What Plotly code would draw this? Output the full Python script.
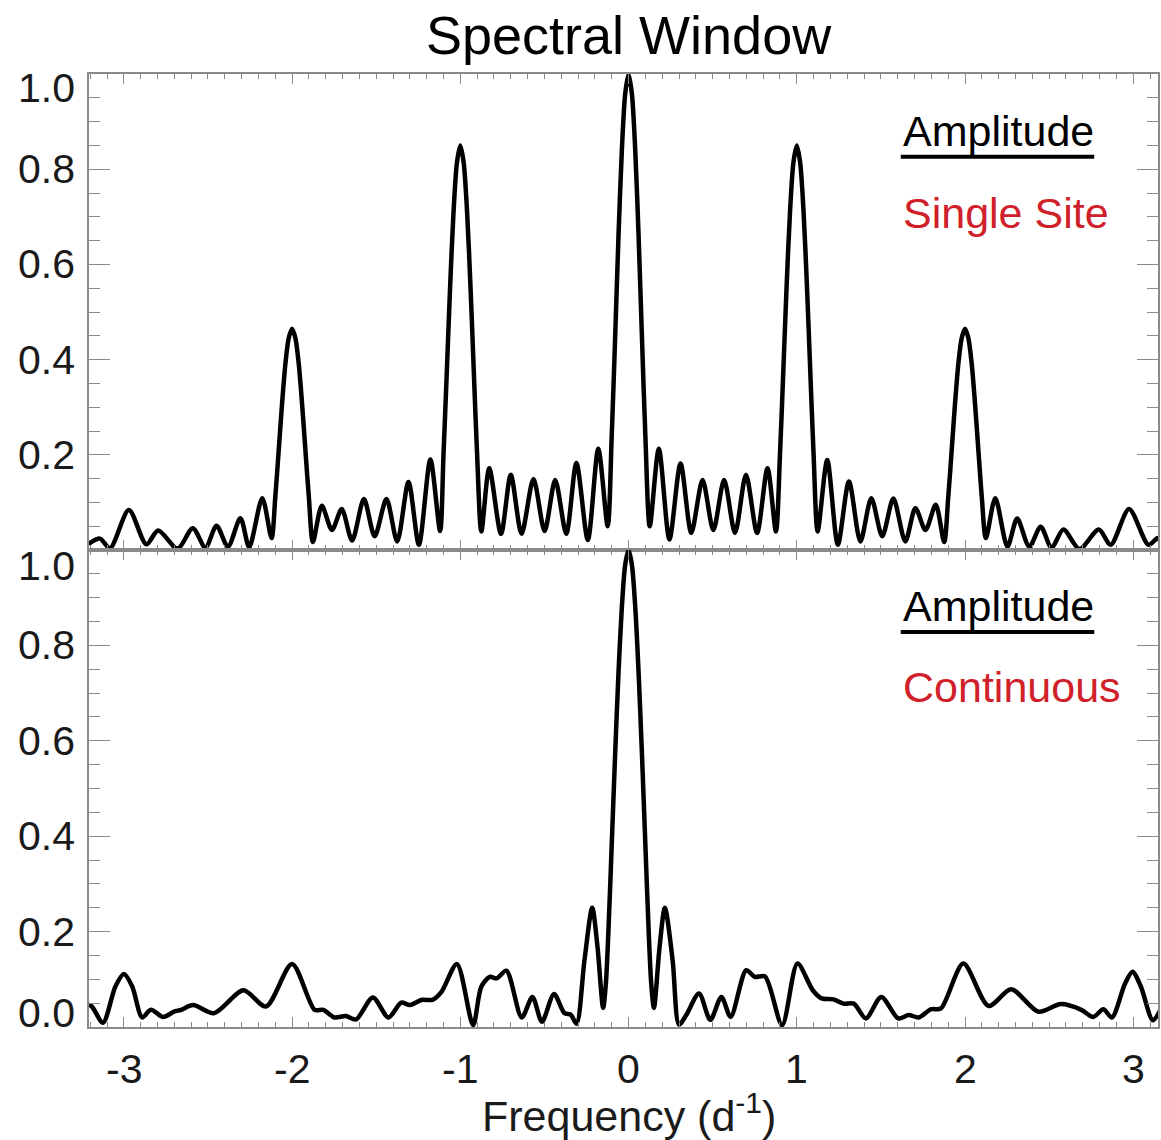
import plotly.graph_objects as go
from plotly.subplots import make_subplots

# ---------------- data ----------------
single_freq = [
    -3.21, -3.20, -3.142, -3.082, -2.970, -2.866, -2.796, -2.680, -2.590, -2.515,
    -2.449, -2.381, -2.307, -2.255, -2.177, -2.122,
    -2.10, -2.08, -2.06, -2.04, -2.02, -2.00, -1.98, -1.96, -1.94, -1.92, -1.90, -1.876,
    -1.823, -1.763, -1.705, -1.643, -1.573, -1.509, -1.439, -1.375, -1.308, -1.246,
    -1.178, -1.120,
    -1.10, -1.08, -1.06, -1.04, -1.02, -1.00, -0.98, -0.96, -0.94, -0.92, -0.90, -0.875,
    -0.828, -0.758, -0.700, -0.636, -0.565, -0.499, -0.436, -0.370, -0.310, -0.242,
    -0.180, -0.124,
    -0.10, -0.08, -0.06, -0.04, -0.02, 0.00, 0.02, 0.04, 0.06, 0.08, 0.10,
    0.126, 0.180, 0.243, 0.309, 0.373, 0.440, 0.504, 0.568, 0.633, 0.698, 0.764,
    0.826, 0.876,
    0.90, 0.92, 0.94, 0.96, 0.98, 1.00, 1.02, 1.04, 1.06, 1.08, 1.10,
    1.124, 1.181, 1.244, 1.310, 1.378, 1.443, 1.508, 1.574, 1.645, 1.705, 1.765,
    1.826, 1.876,
    1.90, 1.92, 1.94, 1.96, 1.98, 2.00, 2.02, 2.04, 2.06, 2.08, 2.10,
    2.124, 2.180, 2.252, 2.310, 2.382, 2.450, 2.514, 2.585, 2.680, 2.795, 2.866,
    2.975, 3.090, 3.145, 3.16,
]
single_amp = [
    0.012, 0.015, 0.024, 0.004, 0.084, 0.012, 0.041, 0.003, 0.046, 0.005,
    0.051, 0.007, 0.067, 0.006, 0.109, 0.025,
    0.110, 0.206, 0.305, 0.390, 0.445, 0.465, 0.445, 0.390, 0.305, 0.206, 0.110, 0.017,
    0.093, 0.042, 0.086, 0.020, 0.107, 0.029, 0.107, 0.018, 0.143, 0.011,
    0.190, 0.040,
    0.200, 0.377, 0.558, 0.712, 0.814, 0.850, 0.814, 0.712, 0.558, 0.377, 0.200, 0.039,
    0.172, 0.034, 0.158, 0.034, 0.149, 0.040, 0.147, 0.034, 0.183, 0.021,
    0.213, 0.050,
    0.240, 0.443, 0.657, 0.838, 0.958, 1.000, 0.958, 0.838, 0.657, 0.443, 0.240,
    0.050, 0.213, 0.022, 0.182, 0.036, 0.147, 0.042, 0.147, 0.036, 0.158, 0.036,
    0.172, 0.039,
    0.200, 0.377, 0.558, 0.712, 0.814, 0.850, 0.814, 0.712, 0.558, 0.377, 0.200,
    0.039, 0.189, 0.011, 0.144, 0.018, 0.109, 0.029, 0.108, 0.018, 0.088, 0.042,
    0.095, 0.017,
    0.110, 0.206, 0.305, 0.390, 0.445, 0.465, 0.445, 0.390, 0.305, 0.206, 0.110,
    0.025, 0.109, 0.007, 0.066, 0.007, 0.049, 0.005, 0.043, 0.002, 0.043, 0.011,
    0.086, 0.011, 0.025, 0.020,
]

cont_freq = [
    -3.22, -3.19, -3.124, -3.05, -3.00, -2.95, -2.891, -2.839, -2.767, -2.701, -2.660,
    -2.588, -2.464, -2.289, -2.155, -2.00, -1.866, -1.814, -1.748, -1.680, -1.619,
    -1.520, -1.427, -1.351, -1.299, -1.227, -1.165, -1.113, -1.020, -0.924, -0.876,
    -0.825, -0.784, -0.726, -0.635, -0.571, -0.515, -0.443, -0.381, -0.344, -0.309,
    -0.262, -0.216, -0.185, -0.151, -0.135,
    -0.12, -0.10, -0.08, -0.06, -0.04, -0.02, 0.00, 0.02, 0.04, 0.06, 0.08, 0.10, 0.12,
    0.135, 0.151, 0.185, 0.216, 0.262, 0.300, 0.343, 0.419, 0.486, 0.552, 0.607,
    0.699, 0.750, 0.811, 0.913, 1.004, 1.095, 1.147, 1.218, 1.278, 1.339, 1.411,
    1.502, 1.603, 1.665, 1.725, 1.796, 1.857, 1.990, 2.140, 2.274, 2.437, 2.569,
    2.691, 2.762, 2.822, 2.873, 2.95, 2.995, 3.045, 3.117, 3.173,
]
cont_amp = [
    0.048, 0.043, 0.009, 0.085, 0.111, 0.085, 0.020, 0.036, 0.021, 0.032, 0.036,
    0.046, 0.029, 0.077, 0.043, 0.132, 0.036, 0.036, 0.020, 0.023, 0.016,
    0.062, 0.020, 0.051, 0.046, 0.057, 0.057, 0.073, 0.132, 0.004, 0.084,
    0.105, 0.102, 0.118, 0.020, 0.063, 0.011, 0.069, 0.029, 0.026, 0.007,
    0.140, 0.250, 0.170, 0.040, 0.090,
    0.198, 0.382, 0.569, 0.741, 0.879, 0.969, 1.000, 0.969, 0.879, 0.741, 0.569, 0.382, 0.198,
    0.090, 0.040, 0.170, 0.250, 0.140, 0.005, 0.025, 0.070, 0.015, 0.063, 0.021,
    0.119, 0.105, 0.106, 0.004, 0.133, 0.077, 0.060, 0.058, 0.049, 0.049, 0.018,
    0.063, 0.018, 0.025, 0.020, 0.037, 0.039, 0.133, 0.044, 0.079, 0.032, 0.048,
    0.036, 0.021, 0.037, 0.020, 0.090, 0.116, 0.085, 0.014, 0.044,
]

x_ticks = [-3, -2, -1, 0, 1, 2, 3]
x_tick_text = ["-3", "-2", "-1", "0", "1", "2", "3"]
top_y_ticks = [0.2, 0.4, 0.6, 0.8, 1.0]
top_y_text = ["0.2", "0.4", "0.6", "0.8", "1.0"]
bot_y_ticks = [0.0, 0.2, 0.4, 0.6, 0.8, 1.0]
bot_y_text = ["0.0", "0.2", "0.4", "0.6", "0.8", "1.0"]

title_text = "Spectral Window"
x_title = "Frequency (d<sup>-1</sup>)"
panel_labels = ["Single Site", "Continuous"]
legend_word = "Amplitude"

# ---------------- styling ----------------
FONT = "Liberation Sans, Arial, Helvetica, sans-serif"
AXC = "#8a8a8a"
TXT = "#1a1a1a"
RED = "#d0202a"
XR = [-3.207, 3.147]

fig = make_subplots(rows=2, cols=1, shared_xaxes=False, vertical_spacing=0)

fig.add_trace(go.Scatter(x=single_freq, y=single_amp, mode="lines",
                         line=dict(color="black", width=4.5, shape="spline", smoothing=0.8),
                         showlegend=False, hoverinfo="skip"), row=1, col=1)
fig.add_trace(go.Scatter(x=cont_freq, y=cont_amp, mode="lines",
                         line=dict(color="black", width=4.5, shape="spline", smoothing=0.8),
                         showlegend=False, hoverinfo="skip"), row=2, col=1)

xcommon = dict(range=XR, showgrid=False, zeroline=False, showline=True, linecolor=AXC,
               linewidth=1.5, mirror="ticks", ticks="inside", ticklen=10, tickwidth=1.2,
               tickcolor=AXC, tickmode="array", tickvals=x_ticks, showticklabels=False,
               minor=dict(dtick=0.1, tick0=0, ticks="inside", ticklen=5, tickcolor=AXC,
                          tickwidth=1, showgrid=False))
ycommon = dict(range=[0, 1.0], showgrid=False, zeroline=False, showline=True, linecolor=AXC,
               linewidth=1.5, mirror="ticks", ticks="inside", ticklen=21, tickwidth=1.2,
               tickcolor=AXC, tickmode="linear", tick0=0, dtick=0.2, showticklabels=False,
               minor=dict(dtick=0.05, tick0=0, ticks="inside", ticklen=11, tickcolor=AXC,
                          tickwidth=1, showgrid=False))

fig.update_xaxes(**xcommon, row=1, col=1)
fig.update_xaxes(**xcommon, row=2, col=1)
fig.update_yaxes(**ycommon, row=1, col=1)
fig.update_yaxes(**ycommon, row=2, col=1)

fig.update_layout(
    width=1161, height=1140,
    margin=dict(l=89, r=1, t=74, b=113),
    paper_bgcolor="white", plot_bgcolor="white",
    font=dict(family=FONT, color=TXT),
)
fig.update_layout(yaxis=dict(domain=[0.5005, 1.0]), yaxis2=dict(domain=[0.0, 0.5005]))

ann = []
# y tick labels
for v, t in zip(top_y_ticks, top_y_text):
    sh = -14 if v == 1.0 else 0
    ann.append(dict(xref="paper", yref="y", x=0, y=v, text=t, xanchor="right", yanchor="middle",
                    xshift=-12, yshift=sh, showarrow=False, font=dict(size=41, color=TXT, family=FONT)))
for v, t in zip(bot_y_ticks, bot_y_text):
    sh = -16 if v == 1.0 else (14 if v == 0.0 else 0)
    ann.append(dict(xref="paper", yref="y2", x=0, y=v, text=t, xanchor="right", yanchor="middle",
                    xshift=-12, yshift=sh, showarrow=False, font=dict(size=41, color=TXT, family=FONT)))
# x tick labels
for v, t in zip(x_ticks, x_tick_text):
    ann.append(dict(xref="x2", yref="y2", x=v, y=0, text=t, xanchor="center", yanchor="middle",
                    yshift=-42, showarrow=False, font=dict(size=41, color=TXT, family=FONT)))
# axis title
ann.append(dict(xref="x2", yref="y2", x=0, y=0, text=x_title, xanchor="center", yanchor="middle",
                yshift=-86, showarrow=False, font=dict(size=43, color=TXT, family=FONT)))
# chart title
ann.append(dict(xref="x2", yref="paper", x=0, y=1, text=title_text, xanchor="center", yanchor="middle",
                yshift=39, showarrow=False, font=dict(size=54, color="black", family=FONT)))
# panel legends
ann.append(dict(xref="x", yref="y", x=1.618, y=0.881, text=legend_word, xanchor="left", yanchor="middle",
                showarrow=False, font=dict(size=43, color="black", family=FONT)))
ann.append(dict(xref="x", yref="y", x=1.618, y=0.709, text=panel_labels[0], xanchor="left", yanchor="middle",
                showarrow=False, font=dict(size=43, color=RED, family=FONT)))
ann.append(dict(xref="x2", yref="y2", x=1.618, y=0.882, text=legend_word, xanchor="left", yanchor="middle",
                showarrow=False, font=dict(size=43, color="black", family=FONT)))
ann.append(dict(xref="x2", yref="y2", x=1.618, y=0.712, text=panel_labels[1], xanchor="left", yanchor="middle",
                showarrow=False, font=dict(size=43, color=RED, family=FONT)))
fig.update_layout(annotations=ann)

fig.add_shape(type="line", xref="x", yref="y", x0=1.618, x1=2.768, y0=0.826, y1=0.826,
              line=dict(color="black", width=4))
fig.add_shape(type="line", xref="x2", yref="y2", x0=1.618, x1=2.768, y0=0.828, y1=0.828,
              line=dict(color="black", width=4))

fig.write_html("out.html")
